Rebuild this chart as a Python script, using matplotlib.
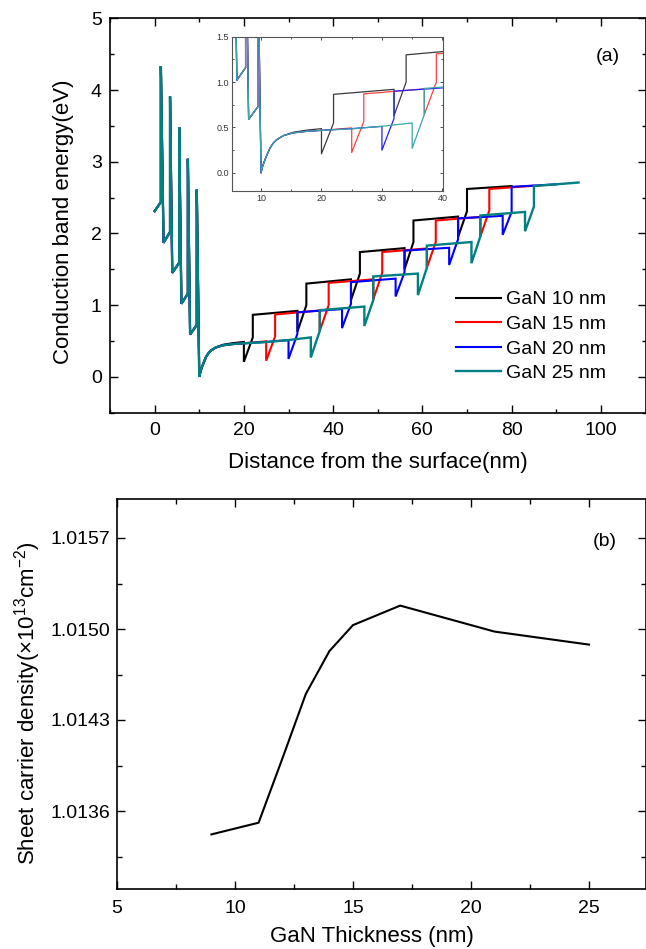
import matplotlib
matplotlib.use("Agg")
import matplotlib.pyplot as plt
from matplotlib.ticker import MultipleLocator, FixedLocator, FormatStrFormatter

plt.rcParams['font.family'] = ['Liberation Sans', 'DejaVu Sans']
plt.rcParams['mathtext.fontset'] = 'custom'
plt.rcParams['mathtext.rm'] = 'Liberation Sans'
plt.rcParams['mathtext.default'] = 'regular'

# ---------------- data: panel (a) ----------------
labels = ['GaN 10 nm', 'GaN 15 nm', 'GaN 20 nm', 'GaN 25 nm']
colors = ['#000000', '#ff0000', '#0000ff', '#008080']
inset_colors = ['#3a3a3a', '#ff4040', '#2020ff', '#3aa6a6']

# common barrier region (0-10 nm)
bar_x = [0, 1.4, 1.4, 2.0, 3.45, 3.45, 3.95, 5.5, 5.5, 6.0, 7.45, 7.45, 7.95, 9.45, 9.45, 10.0]
bar_y = [2.31, 2.44, 4.33, 1.87, 2.02, 3.91, 1.45, 1.59, 3.48, 1.02, 1.16, 3.04, 0.59, 0.725, 2.61, 0.0]

# common start of the GaN channel
chan_x = [10.3, 10.66, 11.0, 11.5, 12.0, 12.6, 13.7]
chan_y = [0.08, 0.146, 0.2, 0.275, 0.325, 0.366, 0.41]

# channel tails per curve
tail_x = [
    [15.3, 17.5, 20],
    [15.3, 17.5, 20, 25],
    [15.3, 17.5, 20, 25, 30],
    [15.3, 17.5, 20, 25, 30, 35],
]
tail_y = [
    [0.447, 0.47, 0.487],
    [0.44, 0.457, 0.468, 0.495],
    [0.44, 0.457, 0.468, 0.487, 0.512],
    [0.44, 0.457, 0.468, 0.485, 0.513, 0.55],
]

# barrier-layer starts and levels (drop, top of ramp, after jump, end of next GaN)
layer_thick = 2.0
layer_start = [
    [20, 32, 44, 56, 68],
    [25, 37, 49, 61, 73],
    [30, 42, 54, 66, 78],
    [35, 47, 59, 71, 83],
]
y_drop = [
    [0.21, 0.63, 1.07, 1.50, 1.95],
    [0.225, 0.64, 1.08, 1.52, 1.96],
    [0.25, 0.68, 1.12, 1.56, 1.98],
    [0.27, 0.71, 1.14, 1.585, 2.03],
]
y_ramp = [
    [0.55, 1.00, 1.44, 1.88, 2.31],
    [0.565, 1.00, 1.45, 1.88, 2.32],
    [0.60, 1.02, 1.46, 1.92, 2.30],
    [0.64, 1.07, 1.52, 1.96, 2.375],
]
y_jump = [
    [0.865, 1.30, 1.74, 2.18, 2.62],
    [0.87, 1.31, 1.74, 2.18, 2.62],
    [0.90, 1.32, 1.76, 2.21, 2.65],
    [0.93, 1.40, 1.83, 2.25, 2.66],
]
y_gan_end = [
    [0.92, 1.36, 1.795, 2.235, 2.66],
    [0.925, 1.36, 1.79, 2.23, 2.665],
    [0.945, 1.37, 1.80, 2.245, 2.685],
    [0.98, 1.44, 1.88, 2.30, 2.71],
]
x_end = [80, 85, 90, 95]

# ---------------- data: panel (b) ----------------
thick = [9, 11, 12, 13, 14, 15, 17, 21, 25]
density = [1.01342, 1.01351, 1.01400, 1.01450, 1.01483, 1.01503, 1.01518, 1.01498, 1.01488]


def build(i):
    px = list(bar_x) + list(chan_x) + list(tail_x[i])
    py = list(bar_y) + list(chan_y) + list(tail_y[i])
    xs = layer_start[i]
    for k, x0 in enumerate(xs):
        px += [x0, x0 + layer_thick, x0 + layer_thick]
        py += [y_drop[i][k], y_ramp[i][k], y_jump[i][k]]
        xn = xs[k + 1] if k + 1 < len(xs) else x_end[i]
        px.append(xn)
        py.append(y_gan_end[i][k])
    return px, py


W, H = 646, 949
fig = plt.figure(figsize=(W / 100, H / 100), dpi=100)

# ---------------- panel (a) ----------------
ax_l, ax_r, ax_t, ax_b = 110, 645.5, 18.3, 412.7
ax = fig.add_axes([ax_l / W, 1 - ax_b / H, (ax_r - ax_l) / W, (ax_b - ax_t) / H])
for i in range(4):
    x, y = build(i)
    ax.plot(x, y, color=colors[i], lw=1.7 if i == 3 else 1.5, label=labels[i],
            solid_joinstyle='miter')
ax.set_xlim(-10, 110)
ax.set_ylim(-0.5, 5)
ax.xaxis.set_major_locator(MultipleLocator(20))
ax.xaxis.set_minor_locator(MultipleLocator(10))
ax.yaxis.set_major_locator(MultipleLocator(1))
ax.yaxis.set_minor_locator(MultipleLocator(0.5))
ax.tick_params(which='both', direction='in', top=True, right=True, labelsize=14, width=1.0)
ax.tick_params(which='major', length=5.5)
ax.tick_params(which='minor', length=3)
ax.tick_params(axis='x', pad=7)
ax.tick_params(axis='y', pad=6)
for s in ax.spines.values():
    s.set_linewidth(1.2)
ax.set_xlabel('Distance from the surface(nm)', fontsize=16)
ax.set_ylabel('Conduction band energy(eV)', fontsize=16)
ax.xaxis.set_label_coords(0.5, -0.10)
ax.yaxis.set_label_coords(-0.0675, 0.4835)
ax.text(0.9305, 0.9026, '(a)', transform=ax.transAxes, fontsize=14, ha='center', va='center')
leg = ax.legend(loc='upper left', bbox_to_anchor=(0.646, 0.309), frameon=False, fontsize=14,
                handlelength=2.3, handletextpad=0.3, labelspacing=0.36, borderpad=0, borderaxespad=0)

# inset
in_l, in_r, in_t, in_b = 232, 443, 36.7, 191
axi = fig.add_axes([in_l / W, 1 - in_b / H, (in_r - in_l) / W, (in_b - in_t) / H])
for i in range(4):
    x, y = build(i)
    axi.plot(x, y, color=inset_colors[i], lw=0.9)
axi.set_xlim(5.2, 40.1)
axi.set_ylim(-0.2, 1.5)
axi.xaxis.set_major_locator(MultipleLocator(10))
axi.xaxis.set_minor_locator(MultipleLocator(5))
axi.yaxis.set_major_locator(MultipleLocator(0.5))
axi.yaxis.set_minor_locator(MultipleLocator(0.25))
axi.yaxis.set_major_formatter(FormatStrFormatter('%.1f'))
axi.tick_params(which='both', direction='in', top=True, right=True, labelsize=6.5,
                width=0.6, colors='#333333', pad=2)
axi.tick_params(which='major', length=2.5)
axi.tick_params(which='minor', length=1.5)
for s in axi.spines.values():
    s.set_linewidth(0.8)
    s.set_color('#555555')

# ---------------- panel (b) ----------------
bx_l, bx_r, bx_t, bx_b = 117, 646, 499, 889
bx = fig.add_axes([bx_l / W, 1 - bx_b / H, (bx_r - bx_l) / W, (bx_b - bx_t) / H])
bx.plot(thick, density, color='black', lw=1.5)
bx.set_xlim(5, 5 + (bx_r - bx_l) / 23.6)
bx.set_ylim(1.0130, 1.0160)
bx.xaxis.set_major_locator(MultipleLocator(5))
bx.xaxis.set_minor_locator(MultipleLocator(2.5))
bx.yaxis.set_major_locator(FixedLocator([1.0136, 1.0143, 1.0150, 1.0157]))
bx.yaxis.set_minor_locator(FixedLocator([1.01325, 1.01395, 1.01465, 1.01535]))
bx.yaxis.set_major_formatter(FormatStrFormatter('%.4f'))
bx.tick_params(which='both', direction='in', top=True, right=True, labelsize=14, width=1.0)
bx.tick_params(which='major', length=5.5)
bx.tick_params(which='minor', length=3.5)
bx.tick_params(axis='x', pad=8)
bx.tick_params(axis='y', pad=5)
for s in bx.spines.values():
    s.set_linewidth(1.2)
bx.set_xlabel('GaN Thickness (nm)', fontsize=16)
bx.set_ylabel('Sheet carrier density(×10$^{13}$cm$^{-2}$)', fontsize=16)
bx.xaxis.set_label_coords(0.482, -0.095)
bx.yaxis.set_label_coords(-0.14, 0.477)
bx.text(0.922, 0.8905, '(b)', transform=bx.transAxes, fontsize=14, ha='center', va='center')

fig.savefig('out.png', dpi=100)
